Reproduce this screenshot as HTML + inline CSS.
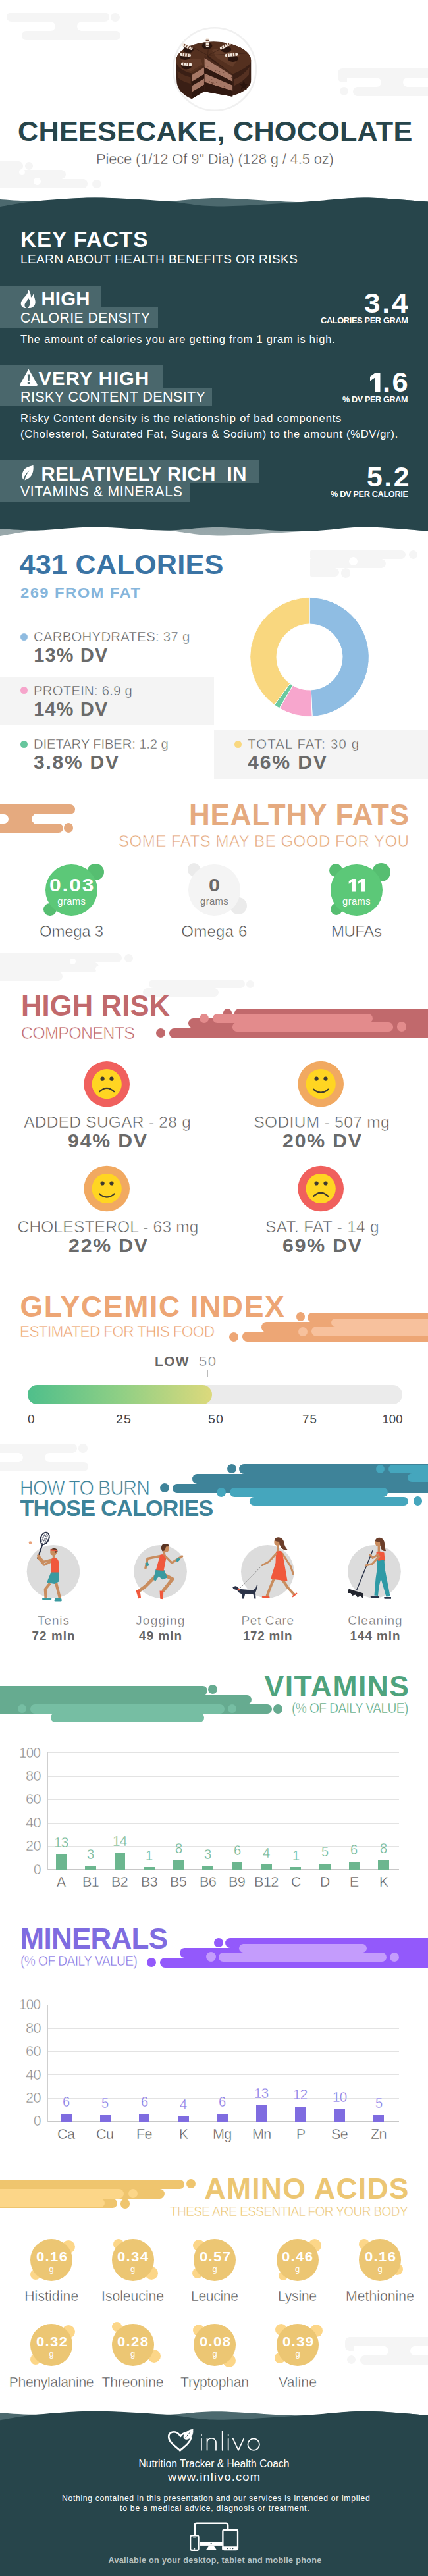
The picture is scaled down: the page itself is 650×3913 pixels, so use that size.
<!DOCTYPE html>
<html><head><meta charset="utf-8"><title>Cheesecake, Chocolate</title>
<style>
html,body{margin:0;padding:0;background:#fff;}
body{width:650px;height:3913px;position:relative;overflow:hidden;font-family:"Liberation Sans",sans-serif;}
.t{position:absolute;white-space:nowrap;line-height:1;transform-origin:0 50%;}
.r{position:absolute;}
svg{position:absolute;left:0;top:0;overflow:visible;}
</style></head><body>
<div class="r" style="left:10.0px;top:19.3px;width:156.0px;height:14.2px;background:#f5f5f5;border-radius:7.1px;"></div>
<div class="r" style="left:168.4px;top:19.7px;width:13.2px;height:13.2px;background:#f5f5f5;border-radius:6.6px;"></div>
<div class="r" style="left:32.7px;top:47.3px;width:150.0px;height:13.6px;background:#f5f5f5;border-radius:6.8px;"></div>
<div class="r" style="left:76.0px;top:26.3px;width:49.0px;height:28.0px;background:#f5f5f5;"></div>
<div class="r" style="left:0.0px;top:33.4px;width:84.0px;height:14.0px;background:#fff;border-radius:7.0px;"></div>
<div class="r" style="left:117.0px;top:33.4px;width:90.0px;height:14.0px;background:#fff;border-radius:7.0px;"></div>
<div class="r" style="left:513.0px;top:104.0px;width:700.0px;height:14.0px;background:#f5f5f5;border-radius:7.0px;"></div>
<div class="r" style="left:536.0px;top:132.0px;width:700.0px;height:13.5px;background:#f5f5f5;border-radius:6.8px;"></div>
<div class="r" style="left:516.0px;top:131.9px;width:13.2px;height:13.2px;background:#f5f5f5;border-radius:6.6px;"></div>
<div class="r" style="left:513.0px;top:111.0px;width:14.0px;height:14.0px;background:#f5f5f5;border-radius:0 0 0 7px;"></div>
<div class="r" style="left:571.0px;top:111.0px;width:49.0px;height:28.0px;background:#f5f5f5;"></div>
<div class="r" style="left:527.0px;top:118.0px;width:52.0px;height:14.0px;background:#fff;border-radius:7.0px;"></div>
<div class="r" style="left:612.0px;top:118.0px;width:200.0px;height:14.0px;background:#fff;border-radius:7.0px;"></div>
<div class="r" style="left:-10.0px;top:245.0px;width:45.0px;height:13.5px;background:#f5f5f5;border-radius:6.7px;"></div>
<div class="r" style="left:38.0px;top:245.5px;width:12.0px;height:12.0px;background:#f5f5f5;border-radius:6.0px;"></div>
<div class="r" style="left:-10.0px;top:258.0px;width:110.0px;height:14.0px;background:#f5f5f5;border-radius:7.0px;"></div>
<div class="r" style="left:-10.0px;top:272.0px;width:143.0px;height:13.5px;background:#f5f5f5;border-radius:6.7px;"></div>
<div class="r" style="left:140.4px;top:272.8px;width:13.2px;height:13.2px;background:#f5f5f5;border-radius:6.6px;"></div>
<div class="r" style="left:-10.0px;top:251.0px;width:30.0px;height:28.0px;background:#f5f5f5;"></div>
<div class="r" style="left:28.5px;top:257.0px;width:9.0px;height:9.0px;background:#fff;border-radius:4.5px;"></div>
<div class="r" style="left:50.5px;top:269.5px;width:11.0px;height:11.0px;background:#fff;border-radius:5.5px;"></div>
<svg width="650" height="300" viewBox="0 0 650 300"><circle cx="326" cy="105" r="62.8" fill="#fff" stroke="#f0f0f0" stroke-width="2.6"/><g transform="translate(255 35) scale(0.3271)"><path d="M38 175 A174 88 0 0 1 386 175 L386 262 A174 84 0 0 1 300 338 L300 342 L168 318 L110 352 Q40 322 40 262 Z" fill="#3a1f15"/><path d="M306 262 Q350 245 378 205 L376 240 Q350 272 306 292 Z" fill="#5a3525" opacity="0.85"/><path d="M44 222 Q70 245 106 252 L106 282 Q66 272 46 252 Z" fill="#55301f" opacity="0.85"/><path d="M38 175 A174 88 0 0 1 386 175 Q386 200 300 238 L185 150 L168 198 L110 234 Q40 215 38 175 Z" fill="#54301f"/><path d="M205 125 Q260 105 335 150 L300 205 L225 160 Z" fill="#6b432f" opacity="0.65"/><path d="M62 172 Q100 160 152 166 L160 192 L106 224 Q70 212 62 172 Z" fill="#6b432f" opacity="0.55"/><path d="M110.0 234.0 L168.0 198.0 L168.0 206.4 L110.0 242.3 Z" fill="#4b2a1c"/><path d="M110.0 242.3 L168.0 206.4 L168.0 237.6 L110.0 272.9 Z" fill="#a67866"/><path d="M110.0 272.9 L168.0 237.6 L168.0 258.0 L110.0 293.0 Z" fill="#2f1810"/><path d="M110.0 293.0 L168.0 258.0 L168.0 286.8 L110.0 321.3 Z" fill="#a67866"/><path d="M110.0 321.3 L168.0 286.8 L168.0 318.0 L110.0 352.0 Z" fill="#2f1810"/><path d="M170.0 150.0 L300.0 238.0 L300.0 245.3 L170.0 161.8 Z" fill="#4b2a1c"/><path d="M170.0 161.8 L300.0 245.3 L300.0 272.3 L170.0 205.4 Z" fill="#a67866"/><path d="M170.0 205.4 L300.0 272.3 L300.0 290.0 L170.0 234.0 Z" fill="#2f1810"/><path d="M170.0 234.0 L300.0 290.0 L300.0 315.0 L170.0 274.3 Z" fill="#a67866"/><path d="M170.0 274.3 L300.0 315.0 L300.0 342.0 L170.0 318.0 Z" fill="#2f1810"/><circle cx="204" cy="263" r="2" fill="#6d4536"/><circle cx="250" cy="273" r="2" fill="#6d4536"/><circle cx="206" cy="279" r="2" fill="#6d4536"/><circle cx="240" cy="225" r="2" fill="#6d4536"/><circle cx="203" cy="277" r="2" fill="#6d4536"/><circle cx="264" cy="242" r="2" fill="#6d4536"/><circle cx="211" cy="278" r="2" fill="#6d4536"/><circle cx="246" cy="279" r="2" fill="#6d4536"/><circle cx="222" cy="222" r="2" fill="#6d4536"/><circle cx="280" cy="238" r="2" fill="#6d4536"/><circle cx="206" cy="274" r="2" fill="#6d4536"/><circle cx="226" cy="276" r="2" fill="#6d4536"/><circle cx="245" cy="238" r="2" fill="#6d4536"/><circle cx="278" cy="257" r="2" fill="#6d4536"/><circle cx="259" cy="231" r="2" fill="#6d4536"/><circle cx="261" cy="294" r="2" fill="#6d4536"/><circle cx="209" cy="277" r="2" fill="#6d4536"/><circle cx="186" cy="202" r="2" fill="#6d4536"/><circle cx="177" cy="185" r="2" fill="#6d4536"/><circle cx="180" cy="245" r="2" fill="#6d4536"/><circle cx="241" cy="236" r="2" fill="#6d4536"/><circle cx="295" cy="252" r="2" fill="#6d4536"/><circle cx="289" cy="294" r="2" fill="#6d4536"/><circle cx="194" cy="272" r="2" fill="#6d4536"/><circle cx="218" cy="280" r="2" fill="#6d4536"/><circle cx="230" cy="219" r="2" fill="#6d4536"/><g stroke="#3a1f15" stroke-width="2.500" opacity="0.8"><path d="M185 150 L100 104"/><path d="M185 150 L190 87"/><path d="M185 150 L285 100"/><path d="M185 150 L368 140"/></g><ellipse cx="95" cy="124" rx="24" ry="15" fill="#2a140d"/><ellipse cx="182" cy="106" rx="24" ry="15" fill="#2a140d"/><ellipse cx="270" cy="122" rx="24" ry="15" fill="#2a140d"/><ellipse cx="302" cy="165" rx="24" ry="15" fill="#2a140d"/><ellipse cx="86" cy="200" rx="24" ry="15" fill="#2a140d"/><ellipse cx="80" cy="156" rx="24" ry="15" fill="#2a140d"/><path d="M183 76 L183 106" stroke="#f3e9df" stroke-width="14" stroke-linecap="round"/><path d="M183 76 L183 106" stroke="#6b4330" stroke-width="14" stroke-dasharray="4 7.500" stroke-dashoffset="-3"/><path d="M72 102 L108 118" stroke="#f3e9df" stroke-width="14" stroke-linecap="round"/><path d="M72 102 L108 118" stroke="#6b4330" stroke-width="14" stroke-dasharray="4 7.500" stroke-dashoffset="-3"/><path d="M62 146 L100 150" stroke="#f3e9df" stroke-width="14" stroke-linecap="round"/><path d="M62 146 L100 150" stroke="#6b4330" stroke-width="14" stroke-dasharray="4 7.500" stroke-dashoffset="-3"/><path d="M68 190 L105 193" stroke="#f3e9df" stroke-width="14" stroke-linecap="round"/><path d="M68 190 L105 193" stroke="#6b4330" stroke-width="14" stroke-dasharray="4 7.500" stroke-dashoffset="-3"/><path d="M248 116 L285 98" stroke="#f3e9df" stroke-width="14" stroke-linecap="round"/><path d="M248 116 L285 98" stroke="#6b4330" stroke-width="14" stroke-dasharray="4 7.500" stroke-dashoffset="-3"/><path d="M272 150 L318 146" stroke="#f3e9df" stroke-width="14" stroke-linecap="round"/><path d="M272 150 L318 146" stroke="#6b4330" stroke-width="14" stroke-dasharray="4 7.500" stroke-dashoffset="-3"/><path transform="translate(352 288)" d="M0 -22 L6 -6 L22 -6 L9 5 L14 22 L0 11 L-14 22 L-9 5 L-22 -6 L-6 -6 Z" fill="#2a140d"/></g></svg>
<div class="t" style="left:27.0px;top:178.2px;font-size:43.2px;font-weight:bold;color:#27454b;letter-spacing:0.25px;">CHEESECAKE, CHOCOLATE</div>
<div class="t" style="left:146.0px;top:230.7px;font-size:22.0px;font-weight:normal;color:#4c4c4c;letter-spacing:-0.17px;-webkit-text-stroke:0.48px #fff;">Piece (1/12 Of 9" Dia) (128 g / 4.5 oz)</div>
<svg width="650" height="900" viewBox="0 0 650 900"><defs><linearGradient id="wg" x1="0" y1="0" x2="0" y2="1"><stop offset="0" stop-color="#4c696e"/><stop offset="0.5" stop-color="#4c696e"/><stop offset="1" stop-color="#9aa9ac"/></linearGradient></defs><path d="M0.0 303.0 C9.5 303.4 33.0 305.9 57.0 305.5 C81.0 305.1 111.8 300.5 144.0 300.5 C176.2 300.5 219.0 305.4 250.0 305.5 C281.0 305.6 295.3 300.8 330.0 301.0 C364.7 301.2 420.8 307.1 458.0 307.0 C495.2 306.9 521.0 300.6 553.0 300.5 C585.0 300.4 633.8 305.6 650.0 306.6 L650.0 806.6 C633.8 805.6 585.0 800.4 553.0 800.5 C521.0 800.6 495.2 804.8 458.0 807.0 C420.8 809.2 364.7 813.8 330.0 813.5 C295.3 813.2 281.0 807.7 250.0 805.5 C219.0 803.3 176.2 800.5 144.0 800.5 C111.8 800.5 81.0 803.2 57.0 805.5 C33.0 807.8 9.5 812.6 0.0 814.0 Z" fill="url(#wg)"/><path d="M0.0 314.0 C9.5 312.6 33.0 307.8 57.0 305.5 C81.0 303.2 111.8 300.5 144.0 300.5 C176.2 300.5 219.0 303.3 250.0 305.5 C281.0 307.7 295.3 313.2 330.0 313.5 C364.7 313.8 420.8 309.2 458.0 307.0 C495.2 304.8 521.0 300.6 553.0 300.5 C585.0 300.4 633.8 305.6 650.0 306.6 L650.0 806.6 C633.8 805.6 585.0 800.4 553.0 800.5 C521.0 800.6 495.2 806.9 458.0 807.0 C420.8 807.1 364.7 801.2 330.0 801.0 C295.3 800.8 281.0 805.6 250.0 805.5 C219.0 805.4 176.2 800.5 144.0 800.5 C111.8 800.5 81.0 805.1 57.0 805.5 C33.0 805.9 9.5 803.4 0.0 803.0 Z" fill="#27454b"/></svg>
<div class="t" style="left:31.0px;top:346.8px;font-size:33.3px;font-weight:bold;color:#fff;letter-spacing:0.90px;">KEY FACTS</div>
<div class="t" style="left:31.0px;top:383.7px;font-size:19.0px;font-weight:normal;color:#fff;letter-spacing:0.43px;">LEARN ABOUT HEALTH BENEFITS OR RISKS</div>
<div class="r" style="left:0.0px;top:434.4px;width:153.6px;height:33.0px;background:#4a676c;"></div>
<div class="r" style="left:0.0px;top:465.7px;width:240.0px;height:32.0px;background:#4a676c;"></div>
<svg width="650" height="800" viewBox="0 0 650 800"><path transform="translate(20 430) scale(0.2571)" d="M88 36 C93 54 80 68 67 83 C53 99 44 111 46 125 C48 139 60 147 75 148 C66 139 65 127 73 116 C80 107 87 100 87 88 C96 95 102 108 100 121 C98 133 93 141 86 148 L99 148 C117 146 131 133 131 112 C131 97 125 86 119 62 C117 73 112 80 105 85 C105 66 99 48 88 36 Z" fill="#fff"/></svg>
<div class="t" style="left:62.4px;top:439.2px;font-size:29.3px;font-weight:bold;color:#fff;letter-spacing:0.25px;">HIGH</div>
<div class="t" style="left:31.0px;top:472.3px;font-size:21.2px;font-weight:normal;color:#fff;letter-spacing:0.44px;">CALORIE DENSITY</div>
<div class="t" style="left:31.0px;top:506.5px;font-size:16.5px;font-weight:normal;color:#fff;letter-spacing:0.79px;">The amount of calories you are getting from 1 gram is high.</div>
<div class="t" style="left:553.1px;top:439.6px;font-size:42.5px;font-weight:bold;color:#fff;letter-spacing:2.55px;transform:scaleX(1.0361);">3.4</div>
<div class="t" style="left:486.6px;top:479.8px;font-size:13.0px;font-weight:bold;color:#fff;letter-spacing:-0.39px;transform:scaleX(0.9881);">CALORIES PER GRAM</div>
<div class="r" style="left:0.0px;top:554.0px;width:247.0px;height:36.0px;background:#4a676c;"></div>
<div class="r" style="left:0.0px;top:589.0px;width:322.0px;height:28.0px;background:#4a676c;"></div>
<svg width="650" height="800" viewBox="0 0 650 800"><path d="M43.5 560.5 L56.8 584.3 Q57.3 586 55.5 586 L31.5 586 Q29.700 586 30.200 584.3 Z M41.8 568.5 L42.300 578.300 L44.700 578.300 L45.200 568.500 Z M43.500 580 A1.800 1.800 0 1 0 43.510 580 Z" fill="#fff" fill-rule="evenodd"/></svg>
<div class="t" style="left:58.6px;top:559.9px;font-size:29.3px;font-weight:bold;color:#fff;letter-spacing:0.99px;">VERY HIGH</div>
<div class="t" style="left:31.0px;top:592.0px;font-size:21.6px;font-weight:normal;color:#fff;letter-spacing:0.35px;">RISKY CONTENT DENSITY</div>
<div class="t" style="left:31.0px;top:627.0px;font-size:16.5px;font-weight:normal;color:#fff;letter-spacing:0.86px;">Risky Content density is the relationship of bad components</div>
<div class="t" style="left:31.0px;top:651.0px;font-size:16.5px;font-weight:normal;color:#fff;letter-spacing:0.73px;">(Cholesterol, Saturated Fat, Sugars &amp; Sodium) to the amount (%DV/gr).</div>
<svg width="650" height="3913" viewBox="0 0 650 3913"><polygon points="569.30,566.80 577.48,566.80 577.48,596.00 569.15,596.00 569.15,573.66 562.00,578.48 562.00,571.91" fill="#fff"/></svg>
<div class="t" style="left:581.0px;top:560.0px;font-size:42.5px;font-weight:bold;color:#fff;letter-spacing:2.55px;transform:scaleX(1.0186);">.6</div>
<div class="t" style="left:520.1px;top:599.5px;font-size:13.0px;font-weight:bold;color:#fff;letter-spacing:-0.39px;transform:scaleX(0.9734);">% DV PER GRAM</div>
<div class="r" style="left:0.0px;top:699.0px;width:393.0px;height:35.0px;background:#4a676c;"></div>
<div class="r" style="left:0.0px;top:733.6px;width:287.5px;height:28.0px;background:#4a676c;"></div>
<svg width="650" height="800" viewBox="0 0 650 800"><path d="M50.5 706.8 C51.5 716 49 725 40.5 728 L37.5 729.6 C38.5 724 41 719 45 714.5 C40.5 718 37 722.5 35.2 728.5 C32 722 34 713 42 709.5 C45 708.3 48 707.8 50.5 706.8 Z" fill="#fff"/></svg>
<div class="t" style="left:62.4px;top:704.6px;font-size:29.3px;font-weight:bold;color:#fff;letter-spacing:0.59px;">RELATIVELY RICH</div>
<div class="t" style="left:344.5px;top:704.6px;font-size:29.3px;font-weight:bold;color:#fff;letter-spacing:0.70px;">IN</div>
<div class="t" style="left:31.0px;top:736.4px;font-size:21.2px;font-weight:normal;color:#fff;letter-spacing:0.73px;">VITAMINS &amp; MINERALS</div>
<div class="t" style="left:556.5px;top:704.3px;font-size:42.5px;font-weight:bold;color:#fff;letter-spacing:2.55px;transform:scaleX(1.0050);">5.2</div>
<div class="t" style="left:501.6px;top:743.5px;font-size:13.0px;font-weight:bold;color:#fff;letter-spacing:-0.39px;transform:scaleX(0.9847);">% DV PER CALORIE</div>
<div class="r" style="left:471.0px;top:836.4px;width:145.0px;height:13.0px;background:#f5f5f5;border-radius:2px 6.500px 6.500px 2px;"></div>
<div class="r" style="left:620.8px;top:835.8px;width:13.6px;height:13.6px;background:#f5f5f5;border-radius:6.8px;"></div>
<div class="r" style="left:471.0px;top:849.0px;width:114.5px;height:14.0px;background:#f5f5f5;border-radius:0 7px 7px 0;"></div>
<div class="r" style="left:471.0px;top:863.0px;width:44.4px;height:13.0px;background:#f5f5f5;border-radius:0 6.500px 6.500px 2px;"></div>
<div class="r" style="left:517.6px;top:863.3px;width:14.4px;height:14.4px;background:#f5f5f5;border-radius:7.2px;"></div>
<div class="r" style="left:529.9px;top:845.5px;width:13.0px;height:13.0px;background:#fff;border-radius:6.5px;"></div>
<div class="t" style="left:29.5px;top:836.0px;font-size:43.3px;font-weight:bold;color:#3b74a4;letter-spacing:0.18px;">431 CALORIES</div>
<div class="t" style="left:30.5px;top:889.8px;font-size:21.6px;font-weight:bold;color:#86b6dc;letter-spacing:1.30px;transform:scaleX(1.1025);">269 FROM FAT</div>
<div class="r" style="left:0.0px;top:1029.0px;width:325.0px;height:72.0px;background:#f4f4f4;"></div>
<div class="r" style="left:325.0px;top:1108.6px;width:325.0px;height:74.6px;background:#f4f4f4;"></div>
<div class="r" style="left:31.0px;top:961.5px;width:11.0px;height:11.0px;background:#8fbbe0;border-radius:5.5px;"></div>
<div class="t" style="left:51.0px;top:956.9px;font-size:20.3px;font-weight:normal;color:#5c5c5c;letter-spacing:0.30px;-webkit-text-stroke:0.45px #fff;">CARBOHYDRATES: 37 g</div>
<div class="t" style="left:51.3px;top:980.7px;font-size:28.8px;font-weight:bold;color:#6a6a6a;letter-spacing:1.27px;">13% DV</div>
<div class="r" style="left:31.0px;top:1043.3px;width:11.0px;height:11.0px;background:#f6a5cb;border-radius:5.5px;"></div>
<div class="t" style="left:51.0px;top:1038.7px;font-size:20.3px;font-weight:normal;color:#5c5c5c;letter-spacing:0.26px;-webkit-text-stroke:0.45px #f4f4f4;">PROTEIN: 6.9 g</div>
<div class="t" style="left:51.3px;top:1062.5px;font-size:28.8px;font-weight:bold;color:#6a6a6a;letter-spacing:1.27px;">14% DV</div>
<div class="r" style="left:31.0px;top:1124.6px;width:11.0px;height:11.0px;background:#67c69d;border-radius:5.5px;"></div>
<div class="t" style="left:51.0px;top:1120.0px;font-size:20.3px;font-weight:normal;color:#5c5c5c;letter-spacing:-0.14px;-webkit-text-stroke:0.45px #fff;">DIETARY FIBER: 1.2 g</div>
<div class="t" style="left:51.3px;top:1143.8px;font-size:28.8px;font-weight:bold;color:#6a6a6a;letter-spacing:1.73px;transform:scaleX(1.0401);">3.8% DV</div>
<div class="r" style="left:356.0px;top:1124.6px;width:11.0px;height:11.0px;background:#f9d880;border-radius:5.5px;"></div>
<div class="t" style="left:376.0px;top:1120.0px;font-size:20.3px;font-weight:normal;color:#5c5c5c;letter-spacing:1.17px;-webkit-text-stroke:0.45px #f4f4f4;">TOTAL FAT: 30 g</div>
<div class="t" style="left:376.3px;top:1143.8px;font-size:28.8px;font-weight:bold;color:#6a6a6a;letter-spacing:1.73px;transform:scaleX(1.0499);">46% DV</div>
<svg width="650" height="1200" viewBox="0 0 650 1200"><path d="M470.00 907.70 A90.30 90.30 0 0 1 474.10 1088.21 L472.27 1047.95 A50.00 50.00 0 0 0 470.00 948.00 Z" fill="#8fbde3" stroke="#fff" stroke-width="1"/><path d="M474.10 1088.21 A90.30 90.30 0 0 1 424.31 1075.88 L444.70 1041.13 A50.00 50.00 0 0 0 472.27 1047.95 Z" fill="#f7a6cd" stroke="#fff" stroke-width="1"/><path d="M424.31 1075.88 A90.30 90.30 0 0 1 416.67 1070.87 L440.47 1038.35 A50.00 50.00 0 0 0 444.70 1041.13 Z" fill="#6bc9a0" stroke="#fff" stroke-width="1"/><path d="M416.67 1070.87 A90.30 90.30 0 0 1 470.00 907.70 L470.00 948.00 A50.00 50.00 0 0 0 440.47 1038.35 Z" fill="#f9d77f" stroke="#fff" stroke-width="1"/></svg>
<div class="r" style="left:0.0px;top:1222.0px;width:114.0px;height:14.5px;background:#e5aa7f;border-radius:0 7.3px 7.3px 0;"></div>
<div class="r" style="left:0.0px;top:1236.0px;width:52.0px;height:15.0px;background:#e5aa7f;"></div>
<div class="r" style="left:0.0px;top:1250.7px;width:96.0px;height:14.3px;background:#e5aa7f;border-radius:0 7.2px 7.2px 0;"></div>
<div class="r" style="left:-10.0px;top:1236.5px;width:23.0px;height:14.2px;background:#fff;border-radius:7.1px;"></div>
<div class="r" style="left:48.0px;top:1236.5px;width:80.0px;height:14.2px;background:#fff;border-radius:7.1px;"></div>
<div class="r" style="left:96.6px;top:1250.1px;width:14.8px;height:14.8px;background:#e5aa7f;border-radius:7.4px;"></div>
<div class="t" style="left:287.0px;top:1215.8px;font-size:44.0px;font-weight:bold;color:#e5aa7f;letter-spacing:0.81px;">HEALTHY FATS</div>
<div class="t" style="left:180.0px;top:1265.7px;font-size:24.0px;font-weight:normal;color:#e5aa7f;letter-spacing:0.53px;-webkit-text-stroke:0.53px #fff;">SOME FATS MAY BE GOOD FOR YOU</div>
<div class="r" style="left:132.1px;top:1311.5px;width:25.8px;height:25.8px;background:#56be71;border-radius:12.9px;"></div>
<div class="r" style="left:66.2px;top:1371.9px;width:19.6px;height:19.6px;background:#56be71;border-radius:9.8px;"></div>
<div class="r" style="left:69.2px;top:1312.6px;width:78.8px;height:78.8px;background:#5cc878;border-radius:39.4px;"></div>
<div class="t" style="left:74.8px;top:1331.0px;font-size:27.6px;font-weight:bold;color:#fff;letter-spacing:1.66px;transform:scaleX(1.1502);">0.03</div>
<div class="t" style="left:87.3px;top:1361.5px;font-size:14.8px;font-weight:normal;color:#fff;letter-spacing:0.35px;">grams</div>
<div class="t" style="left:60.1px;top:1403.0px;font-size:24.0px;font-weight:normal;color:#4e4e4e;letter-spacing:-0.29px;-webkit-text-stroke:0.53px #fff;">Omega 3</div>
<div class="r" style="left:284.6px;top:1311.2px;width:19.6px;height:19.6px;background:#ebebeb;border-radius:9.8px;"></div>
<div class="r" style="left:348.9px;top:1362.9px;width:25.8px;height:25.8px;background:#ebebeb;border-radius:12.9px;"></div>
<div class="r" style="left:285.9px;top:1312.6px;width:78.8px;height:78.8px;background:#f4f4f4;border-radius:39.4px;"></div>
<div class="t" style="left:316.8px;top:1331.0px;font-size:27.6px;font-weight:bold;color:#6a6a6a;letter-spacing:0.00px;transform:scaleX(1.1075);">0</div>
<div class="t" style="left:304.1px;top:1361.5px;font-size:14.8px;font-weight:normal;color:#7a7a7a;letter-spacing:0.35px;">grams</div>
<div class="t" style="left:275.3px;top:1403.0px;font-size:24.0px;font-weight:normal;color:#4e4e4e;letter-spacing:0.21px;-webkit-text-stroke:0.53px #fff;">Omega 6</div>
<div class="r" style="left:499.5px;top:1311.5px;width:20.0px;height:20.0px;background:#56be71;border-radius:10.0px;"></div>
<div class="r" style="left:565.0px;top:1311.0px;width:28.0px;height:28.0px;background:#56be71;border-radius:14.0px;"></div>
<div class="r" style="left:502.0px;top:1371.7px;width:18.0px;height:18.0px;background:#56be71;border-radius:9.0px;"></div>
<div class="r" style="left:502.0px;top:1312.6px;width:78.8px;height:78.8px;background:#5cc878;border-radius:39.4px;"></div>
<svg width="650" height="3913" viewBox="0 0 650 3913"><polygon points="534.55,1335.00 539.98,1335.00 539.98,1354.40 534.45,1354.40 534.45,1339.56 529.70,1342.76 529.70,1338.39" fill="#fff"/></svg>
<svg width="650" height="3913" viewBox="0 0 650 3913"><polygon points="548.95,1335.00 554.38,1335.00 554.38,1354.40 548.85,1354.40 548.85,1339.56 544.10,1342.76 544.10,1338.39" fill="#fff"/></svg>
<div class="t" style="left:520.1px;top:1361.5px;font-size:14.8px;font-weight:normal;color:#fff;letter-spacing:0.35px;">grams</div>
<div class="t" style="left:502.9px;top:1403.0px;font-size:24.0px;font-weight:normal;color:#4e4e4e;letter-spacing:-0.42px;-webkit-text-stroke:0.53px #fff;">MUFAs</div>
<div class="r" style="left:-10.0px;top:1448.0px;width:195.0px;height:14.0px;background:#f5f5f5;border-radius:7.0px;"></div>
<div class="r" style="left:188.5px;top:1448.5px;width:13.0px;height:13.0px;background:#f5f5f5;border-radius:6.5px;"></div>
<div class="r" style="left:-10.0px;top:1462.0px;width:160.0px;height:14.0px;background:#f5f5f5;border-radius:7.0px;"></div>
<div class="r" style="left:-10.0px;top:1476.0px;width:105.0px;height:14.0px;background:#f5f5f5;border-radius:7.0px;"></div>
<div class="r" style="left:-10.0px;top:1455.0px;width:80.0px;height:28.0px;background:#f5f5f5;"></div>
<div class="r" style="left:105.5px;top:1455.5px;width:9.0px;height:9.0px;background:#fff;border-radius:4.5px;"></div>
<div class="r" style="left:145.0px;top:1467.0px;width:10.0px;height:10.0px;background:#fff;border-radius:5.0px;"></div>
<div class="r" style="left:226.0px;top:1488.0px;width:146.0px;height:13.0px;background:#f5f5f5;border-radius:6.5px;"></div>
<div class="r" style="left:374.0px;top:1488.5px;width:12.0px;height:12.0px;background:#f5f5f5;border-radius:6.0px;"></div>
<div class="r" style="left:217.0px;top:1501.0px;width:115.0px;height:13.0px;background:#f5f5f5;border-radius:6.5px;"></div>
<div class="r" style="left:240.0px;top:1494.0px;width:80.0px;height:14.0px;background:#f5f5f5;"></div>
<div class="t" style="left:32.0px;top:1507.0px;font-size:43.5px;font-weight:bold;color:#c1696c;letter-spacing:0.15px;">HIGH RISK</div>
<div class="t" style="left:32.0px;top:1556.0px;font-size:26.0px;font-weight:normal;color:#c1696c;letter-spacing:-0.78px;transform:scaleX(0.9647);-webkit-text-stroke:0.57px #fff;">COMPONENTS</div>
<div class="r" style="left:237.0px;top:1562.2px;width:14.0px;height:14.0px;background:#c1696c;border-radius:7.0px;"></div>
<div class="r" style="left:256.6px;top:1561.6px;width:700.0px;height:15.4px;background:#c1696c;border-radius:7.7px;"></div>
<div class="r" style="left:286.2px;top:1546.7px;width:700.0px;height:15.5px;background:#c1696c;border-radius:7.7px;"></div>
<div class="r" style="left:356.0px;top:1532.2px;width:700.0px;height:15.0px;background:#c1696c;border-radius:7.5px;"></div>
<div class="r" style="left:338.7px;top:1532.0px;width:13.6px;height:13.6px;background:#c1696c;border-radius:6.8px;"></div>
<div class="r" style="left:314.0px;top:1550.2px;width:700.0px;height:20.0px;background:#c1696c;"></div>
<div class="r" style="left:384.0px;top:1540.2px;width:700.0px;height:20.0px;background:#c1696c;"></div>
<div class="r" style="left:302.8px;top:1540.0px;width:14.4px;height:14.4px;background:#e38b8c;border-radius:7.2px;"></div>
<div class="r" style="left:323.2px;top:1539.6px;width:243.1px;height:14.0px;background:#e38b8c;border-radius:7.0px;"></div>
<div class="r" style="left:352.6px;top:1553.4px;width:244.1px;height:13.6px;background:#e38b8c;border-radius:6.8px;"></div>
<div class="r" style="left:602.6px;top:1552.3px;width:14.4px;height:14.4px;background:#e38b8c;border-radius:7.2px;"></div>
<div class="r" style="left:360.6px;top:1548.4px;width:197.7px;height:10.0px;background:#e38b8c;"></div>
<svg width="650" height="2000" viewBox="0 0 650 2000"><circle cx="162.2" cy="1646.7" r="34.8" fill="#f0605d"/><circle cx="162.2" cy="1646.7" r="22.6" fill="#ffd522"/><circle cx="155.6" cy="1638.7" r="3.1" fill="#3d3a30"/><circle cx="169.5" cy="1638.7" r="3.1" fill="#3d3a30"/><path d="M151.2 1658.1 Q162.2 1647.7 173.2 1658.1" fill="none" stroke="#3d3a30" stroke-width="2.3" stroke-linecap="round"/></svg>
<svg width="650" height="2000" viewBox="0 0 650 2000"><circle cx="487.2" cy="1646.6" r="34.8" fill="#f1a961"/><circle cx="487.2" cy="1646.6" r="22.6" fill="#ffd522"/><circle cx="480.6" cy="1638.6" r="3.1" fill="#3d3a30"/><circle cx="494.5" cy="1638.6" r="3.1" fill="#3d3a30"/><path d="M476.2 1654.6 Q487.2 1664.6 498.5 1654.6" fill="none" stroke="#3d3a30" stroke-width="2.3" stroke-linecap="round"/></svg>
<svg width="650" height="2000" viewBox="0 0 650 2000"><circle cx="162.2" cy="1805.5" r="34.8" fill="#f1a961"/><circle cx="162.2" cy="1805.5" r="22.6" fill="#ffd522"/><circle cx="155.6" cy="1797.5" r="3.1" fill="#3d3a30"/><circle cx="169.5" cy="1797.5" r="3.1" fill="#3d3a30"/><path d="M151.2 1813.5 Q162.2 1823.5 173.5 1813.5" fill="none" stroke="#3d3a30" stroke-width="2.3" stroke-linecap="round"/></svg>
<svg width="650" height="2000" viewBox="0 0 650 2000"><circle cx="487.2" cy="1805.5" r="34.8" fill="#f0605d"/><circle cx="487.2" cy="1805.5" r="22.6" fill="#ffd522"/><circle cx="480.6" cy="1797.5" r="3.1" fill="#3d3a30"/><circle cx="494.5" cy="1797.5" r="3.1" fill="#3d3a30"/><path d="M476.2 1816.9 Q487.2 1806.5 498.2 1816.9" fill="none" stroke="#3d3a30" stroke-width="2.3" stroke-linecap="round"/></svg>
<div class="t" style="left:36.2px;top:1692.9px;font-size:24.5px;font-weight:normal;color:#5e5e5e;letter-spacing:0.26px;-webkit-text-stroke:0.54px #fff;">ADDED SUGAR - 28 g</div>
<div class="t" style="left:103.0px;top:1718.2px;font-size:29.3px;font-weight:bold;color:#6a6a6a;letter-spacing:1.76px;transform:scaleX(1.0320);">94% DV</div>
<div class="t" style="left:385.4px;top:1692.9px;font-size:24.5px;font-weight:normal;color:#5e5e5e;letter-spacing:0.34px;-webkit-text-stroke:0.54px #fff;">SODIUM - 507 mg</div>
<div class="t" style="left:428.5px;top:1718.2px;font-size:29.3px;font-weight:bold;color:#6a6a6a;letter-spacing:1.76px;transform:scaleX(1.0320);">20% DV</div>
<div class="t" style="left:26.5px;top:1851.8px;font-size:24.5px;font-weight:normal;color:#5e5e5e;letter-spacing:0.20px;-webkit-text-stroke:0.54px #fff;">CHOLESTEROL - 63 mg</div>
<div class="t" style="left:104.0px;top:1877.1px;font-size:29.3px;font-weight:bold;color:#6a6a6a;letter-spacing:1.76px;transform:scaleX(1.0320);">22% DV</div>
<div class="t" style="left:403.1px;top:1851.8px;font-size:24.5px;font-weight:normal;color:#5e5e5e;letter-spacing:0.27px;-webkit-text-stroke:0.54px #fff;">SAT. FAT - 14 g</div>
<div class="t" style="left:429.4px;top:1877.1px;font-size:29.3px;font-weight:bold;color:#6a6a6a;letter-spacing:1.76px;transform:scaleX(1.0320);">69% DV</div>
<div class="t" style="left:30.4px;top:1963.2px;font-size:44.6px;font-weight:bold;color:#eda675;letter-spacing:1.65px;">GLYCEMIC INDEX</div>
<div class="t" style="left:30.4px;top:2011.0px;font-size:24.0px;font-weight:normal;color:#eda675;letter-spacing:-0.72px;transform:scaleX(0.9428);-webkit-text-stroke:0.53px #fff;">ESTIMATED FOR THIS FOOD</div>
<div class="r" style="left:348.0px;top:2023.6px;width:14.0px;height:14.0px;background:#eda675;border-radius:7.0px;"></div>
<div class="r" style="left:367.6px;top:2023.0px;width:700.0px;height:15.4px;background:#eda675;border-radius:7.7px;"></div>
<div class="r" style="left:397.2px;top:2008.1px;width:700.0px;height:15.5px;background:#eda675;border-radius:7.7px;"></div>
<div class="r" style="left:467.0px;top:1993.6px;width:700.0px;height:15.0px;background:#eda675;border-radius:7.5px;"></div>
<div class="r" style="left:449.7px;top:1993.4px;width:13.6px;height:13.6px;background:#eda675;border-radius:6.8px;"></div>
<div class="r" style="left:425.0px;top:2011.6px;width:700.0px;height:20.0px;background:#eda675;"></div>
<div class="r" style="left:495.0px;top:2001.6px;width:700.0px;height:20.0px;background:#eda675;"></div>
<div class="r" style="left:452.6px;top:2015.6px;width:14.0px;height:14.0px;background:#f7c19d;border-radius:7.0px;"></div>
<div class="r" style="left:472.7px;top:2015.1px;width:700.0px;height:15.0px;background:#f7c19d;border-radius:7.5px;"></div>
<div class="r" style="left:503.0px;top:2003.1px;width:700.0px;height:12.3px;background:#f7c19d;border-radius:6.2px;"></div>
<div class="r" style="left:511.0px;top:2010.1px;width:536.0px;height:10.0px;background:#f7c19d;"></div>
<div class="t" style="left:235.4px;top:2058.9px;font-size:19.8px;font-weight:bold;color:#666;letter-spacing:1.19px;transform:scaleX(1.0605);">LOW</div>
<div class="t" style="left:302.0px;top:2058.9px;font-size:19.8px;font-weight:normal;color:#7a7a7a;letter-spacing:1.19px;transform:scaleX(1.1201);-webkit-text-stroke:0.44px #fff;">50</div>
<div class="r" style="left:314.6px;top:2081.0px;width:1.0px;height:10.0px;background:#bbb;"></div>
<div class="r" style="left:41.8px;top:2103.7px;width:569.2px;height:29.4px;background:#ebebeb;border-radius:14.7px;"></div>
<div class="r" style="left:41.8px;top:2103.7px;width:280.2px;height:29.4px;background:#ccc;border-radius:14.7px;background:linear-gradient(90deg,#4fbf8b 0%,#8fcf85 50%,#dcd97c 100%);"></div>
<div class="t" style="left:41.5px;top:2147.3px;font-size:18.5px;font-weight:normal;color:#444;letter-spacing:0.00px;transform:scaleX(1.0205);">0</div>
<div class="t" style="left:176.0px;top:2147.3px;font-size:18.5px;font-weight:normal;color:#444;letter-spacing:1.11px;transform:scaleX(1.0605);">25</div>
<div class="t" style="left:315.5px;top:2147.3px;font-size:18.5px;font-weight:normal;color:#444;letter-spacing:1.11px;transform:scaleX(1.0605);">50</div>
<div class="t" style="left:459.0px;top:2147.3px;font-size:18.5px;font-weight:normal;color:#444;letter-spacing:1.11px;transform:scaleX(1.0144);">75</div>
<div class="t" style="left:580.5px;top:2147.3px;font-size:18.5px;font-weight:normal;color:#444;letter-spacing:0.07px;">100</div>
<div class="r" style="left:-39.0px;top:2193.0px;width:156.0px;height:14.2px;background:#f5f5f5;border-radius:7.1px;"></div>
<div class="r" style="left:119.4px;top:2193.4px;width:13.2px;height:13.2px;background:#f5f5f5;border-radius:6.6px;"></div>
<div class="r" style="left:-16.3px;top:2221.0px;width:150.0px;height:13.6px;background:#f5f5f5;border-radius:6.8px;"></div>
<div class="r" style="left:27.0px;top:2200.0px;width:49.0px;height:28.0px;background:#f5f5f5;"></div>
<div class="r" style="left:-49.0px;top:2207.1px;width:84.0px;height:14.0px;background:#fff;border-radius:7.0px;"></div>
<div class="r" style="left:68.0px;top:2207.1px;width:90.0px;height:14.0px;background:#fff;border-radius:7.0px;"></div>
<div class="t" style="left:30.4px;top:2244.8px;font-size:31.0px;font-weight:normal;color:#3e8399;letter-spacing:-0.93px;transform:scaleX(0.9276);-webkit-text-stroke:0.68px #fff;">HOW TO BURN</div>
<div class="t" style="left:30.4px;top:2274.3px;font-size:34.2px;font-weight:bold;color:#3e8399;letter-spacing:-0.77px;">THOSE CALORIES</div>
<div class="r" style="left:242.5px;top:2253.4px;width:14.0px;height:14.0px;background:#3e8399;border-radius:7.0px;"></div>
<div class="r" style="left:262.0px;top:2253.7px;width:420.0px;height:14.0px;background:#3e8399;border-radius:7.0px;"></div>
<div class="r" style="left:291.7px;top:2239.3px;width:420.0px;height:14.6px;background:#3e8399;border-radius:7.3px;"></div>
<div class="r" style="left:362.6px;top:2224.4px;width:420.0px;height:15.0px;background:#3e8399;border-radius:7.5px;"></div>
<div class="r" style="left:344.9px;top:2224.0px;width:14.0px;height:14.0px;background:#3e8399;border-radius:7.0px;"></div>
<div class="r" style="left:300.0px;top:2246.0px;width:400.0px;height:14.0px;background:#3e8399;"></div>
<div class="r" style="left:370.0px;top:2232.0px;width:300.0px;height:14.0px;background:#3e8399;"></div>
<div class="r" style="left:329.4px;top:2259.8px;width:14.0px;height:14.0px;background:#45a6bd;border-radius:7.0px;"></div>
<div class="r" style="left:349.3px;top:2259.9px;width:239.7px;height:14.4px;background:#45a6bd;border-radius:7.2px;"></div>
<div class="r" style="left:379.0px;top:2273.5px;width:241.0px;height:13.5px;background:#45a6bd;border-radius:6.8px;"></div>
<div class="r" style="left:386.0px;top:2266.0px;width:190.0px;height:12.0px;background:#45a6bd;"></div>
<div class="r" style="left:627.8px;top:2273.2px;width:13.6px;height:13.6px;background:#45a6bd;border-radius:6.8px;"></div>
<div class="r" style="left:571.0px;top:2225.2px;width:13.2px;height:13.2px;background:#45a6bd;border-radius:6.6px;"></div>
<div class="r" style="left:590.4px;top:2225.4px;width:80.0px;height:13.0px;background:#45a6bd;border-radius:6.5px;"></div>
<div class="r" style="left:619.0px;top:2238.0px;width:60.0px;height:13.0px;background:#45a6bd;border-radius:6.5px;"></div>
<div class="r" style="left:626.0px;top:2232.0px;width:30.0px;height:10.0px;background:#45a6bd;"></div>
<svg width="650" height="2500" viewBox="0 0 650 2500"><circle cx="81.0" cy="2387.2" r="40.3" fill="#dcdcdc"/><circle cx="243.6" cy="2387.2" r="40.3" fill="#dcdcdc"/><circle cx="406.3" cy="2387.2" r="40.3" fill="#dcdcdc"/><circle cx="568.5" cy="2387.2" r="40.3" fill="#dcdcdc"/><g>
<circle cx="46" cy="2343.5" r="2.3" fill="#e9a27a"/>
<ellipse cx="68" cy="2336.8" rx="6.3" ry="9.6" transform="rotate(22 68 2336.8)" fill="none" stroke="#2b3348" stroke-width="1.8"/>
<g stroke="#2b3348" stroke-width="0.5" transform="rotate(22 68 2336.8)"><path d="M63 2333h10M62.5 2336.8h11M63 2340.5h10M65.5 2329v16M68 2328v18M70.5 2329v16"/></g>
<path d="M64.5 2346 L57.2 2367" stroke="#2b3348" stroke-width="2.2" stroke-linecap="round"/>
<path d="M79.5 2369 L66 2372.5 L58 2363" fill="none" stroke="#c98d5f" stroke-width="3.6" stroke-linejoin="round" stroke-linecap="round"/>
<path d="M80 2371 L67 2377 L57.5 2366" fill="none" stroke="#c98d5f" stroke-width="3.4" stroke-linejoin="round" stroke-linecap="round"/>
<path d="M76 2405 L68.8 2414 L69.5 2427" fill="none" stroke="#c98d5f" stroke-width="4.2" stroke-linejoin="round"/>
<path d="M85 2404 L88 2416 L91 2428" fill="none" stroke="#c98d5f" stroke-width="4.2" stroke-linejoin="round"/>
<path d="M77.5 2388 L89.5 2388 L90 2402 L83 2406 L71 2404 Z" fill="#3a9aa0"/>
<path d="M78 2369 Q79 2366 83 2366 Q88 2367 89 2372 L89.6 2388.5 L77.6 2388.5 Z" fill="#f0583c"/>
<rect x="79.8" y="2360" width="3.4" height="7" fill="#c98d5f"/>
<circle cx="81.3" cy="2357.6" r="5.2" fill="#c98d5f"/>
<path d="M76.5 2354.5 Q81 2349.5 87 2353.5 L87.5 2357 L84 2359 L83.5 2355.5 Z" fill="#5a3423"/>
<path d="M76.3 2353.3 L86.8 2354.2 L86.8 2356.6 L76.3 2355.6 Z" fill="#e8553d"/>
<path d="M64.5 2427 h13.5 q1 4 -2 4 h-9 q-4 0 -2.500 -4z" fill="#3a9aa0"/>
<path d="M84 2428 h9 q2 4.500 -1 4.500 h-8 q-3 0 0 -4.500z" fill="#3a9aa0"/>
</g><g>
<path d="M243.5 2363.5 L224 2367.5 L221 2382" fill="none" stroke="#c98d5f" stroke-width="3.6" stroke-linejoin="round" stroke-linecap="round"/>
<path d="M222.3 2373.8 L224.8 2378.8" stroke="#3a9aa0" stroke-width="4.6"/>
<path d="M237.500 2393 L221 2409.500 L209.500 2418" fill="none" stroke="#c98d5f" stroke-width="5" stroke-linejoin="round"/>
<path d="M249 2392 L262 2398.500 L247 2417.500" fill="none" stroke="#c98d5f" stroke-width="5.2" stroke-linejoin="round"/>
<path d="M236.500 2384 L249.500 2385 L254 2396.500 L247 2399.500 L241 2394.500 L236 2402 L233 2399 Z" fill="#3a9aa0"/>
<path d="M243.200 2362 Q246 2360.500 251.500 2361.500 L252.500 2366 L248.600 2386 L236.800 2385 Z" fill="#f0583c"/>
<path d="M251.500 2364.500 L261 2374 L276.500 2364" fill="none" stroke="#c98d5f" stroke-width="3.4" stroke-linejoin="round" stroke-linecap="round"/>
<path d="M268 2371.300 L272.600 2367.200" stroke="#3a9aa0" stroke-width="4.400"/>
<rect x="247.500" y="2356" width="3.600" height="6.500" fill="#c98d5f"/>
<circle cx="251.200" cy="2352.300" r="5.800" fill="#c98d5f"/>
<path d="M245 2352.500 Q244.500 2345 251 2345 Q257 2345 256.500 2349 L252 2349.500 L250.500 2355 L246.500 2356.500 Z" fill="#5a3423"/>
<path d="M206.300 2415.500 l6 -1 l1.800 13 l-4 0.800 z" fill="#f0583c"/>
<path d="M242.500 2416.500 l5.800 0.200 l-0.500 12.500 l-4.500 -0.500 z" fill="#f0583c"/>
</g><g>
<path d="M398 2378 L363.500 2413.500" stroke="#8a8a8a" stroke-width="0.9"/>
<path d="M429 2360 L441.500 2379.500 L445.400 2391" fill="none" stroke="#c98d5f" stroke-width="3" stroke-linejoin="round" stroke-linecap="round"/>
<path d="M428.500 2399 L437.500 2412 L447 2422.500" fill="none" stroke="#c98d5f" stroke-width="4" stroke-linejoin="round"/>
<path d="M416 2398 L410.500 2411 L405.500 2424.500" fill="none" stroke="#c98d5f" stroke-width="4" stroke-linejoin="round"/>
<path d="M419 2357 Q423 2354.500 428.500 2357 L431 2370 L436.500 2401.500 L411 2398.500 L418.500 2374 Z" fill="#f0583c"/>
<path d="M419.500 2360 L408 2372.500 L398.500 2377.500" fill="none" stroke="#c98d5f" stroke-width="3" stroke-linejoin="round" stroke-linecap="round"/>
<rect x="420.600" y="2347" width="3.400" height="9.500" fill="#c98d5f"/>
<circle cx="421.800" cy="2342.600" r="5.600" fill="#c98d5f"/>
<path d="M416.500 2340 Q418 2334.500 424.500 2335.500 Q430.500 2337 431.500 2344 Q432.500 2350 437 2354.500 Q430 2355.500 426.500 2350.500 Q424 2346.500 424 2342 Q420 2342 416.500 2340 Z" fill="#6b3e2a"/>
<path d="M398 2425 h10 q2 0 1.500 2 h-9.500 q-3 0 -2 -2z" fill="#f0583c"/>
<path d="M443.500 2424.500 l6.500 -5 q2 0 1 2 l-6.500 5 z" fill="#f0583c"/>
<path d="M353 2410.500 L358.500 2409 L362.500 2412.500 L366 2414 L384 2415.500 L388 2413 L390 2407.500 L391.300 2408 L389.500 2415 L388 2419.500 L388.500 2428.500 L386.300 2428.500 L384.500 2422 L372 2422 L370.500 2428.500 L368 2428.500 L367 2421.500 L362.500 2419 L360 2415.500 L354.500 2413.800 Z" fill="#2b3348"/>
<path d="M361.500 2412.300 l2.800 1.600 l-1 2.600 l-2.800 -1.600z" fill="#f0583c"/>
</g><g>
<path d="M571.500 2357.500 Q577 2355 583.500 2358.500 L584.500 2371 L578 2373 L572 2370 Z" fill="#f0583c"/>
<path d="M572.500 2359 L574.500 2371 L583.500 2369 L584.500 2383 L589.500 2409 L592.500 2425 L586.500 2425.500 L578.500 2398 L575.500 2410 L574 2424 L568.500 2423.500 L570.500 2398 L572.800 2382 L572.500 2372 Z" fill="#2f9aa6"/>
<path d="M566 2355.300 L541.400 2416" stroke="#2b3348" stroke-width="1.500"/>
<path d="M529.500 2413.500 L552 2420.500 L551 2427.500 L547 2424.500 L543 2426.500 L539.500 2422.500 L535 2424 L532.500 2420 L528 2420 Z" fill="#22252e"/>
<path d="M574.500 2361 L566 2366.500 L562 2361.500" fill="none" stroke="#c98d5f" stroke-width="3" stroke-linejoin="round" stroke-linecap="round"/>
<path d="M576 2364 L565.500 2375.500 L555.500 2378" fill="none" stroke="#c98d5f" stroke-width="3" stroke-linejoin="round" stroke-linecap="round"/>
<rect x="573.600" y="2348" width="3.400" height="9" fill="#c98d5f"/>
<circle cx="574.800" cy="2343.200" r="5.600" fill="#c98d5f"/>
<path d="M569.500 2341 Q571 2335 578 2336 Q583.500 2337.500 584 2345 Q584.500 2351.500 586 2356 Q580.500 2357 578.500 2351.500 Q577 2347 577 2342.500 Q573 2342.500 569.500 2341 Z" fill="#6b3e2a"/>
<path d="M563 2424.500 h12.500 v2.800 h-10.500 q-3 0 -2 -2.800z" fill="#2b3348"/>
<path d="M583.500 2426 h10.500 v2.800 h-9 q-3 0 -1.500 -2.800z" fill="#2b3348"/>
</g></svg>
<div class="t" style="left:57.1px;top:2451.7px;font-size:19.0px;font-weight:normal;color:#6a6a6a;letter-spacing:0.86px;-webkit-text-stroke:0.42px #fff;">Tenis</div>
<div class="t" style="left:48.5px;top:2475.9px;font-size:18.8px;font-weight:bold;color:#666;letter-spacing:1.09px;">72 min</div>
<div class="t" style="left:206.3px;top:2451.7px;font-size:19.0px;font-weight:normal;color:#6a6a6a;letter-spacing:1.14px;transform:scaleX(1.0150);-webkit-text-stroke:0.42px #fff;">Jogging</div>
<div class="t" style="left:211.1px;top:2475.9px;font-size:18.8px;font-weight:bold;color:#666;letter-spacing:1.09px;">49 min</div>
<div class="t" style="left:366.4px;top:2451.7px;font-size:19.0px;font-weight:normal;color:#6a6a6a;letter-spacing:0.67px;-webkit-text-stroke:0.42px #fff;">Pet Care</div>
<div class="t" style="left:368.9px;top:2475.9px;font-size:18.8px;font-weight:bold;color:#666;letter-spacing:0.78px;">172 min</div>
<div class="t" style="left:528.2px;top:2451.7px;font-size:19.0px;font-weight:normal;color:#6a6a6a;letter-spacing:1.07px;-webkit-text-stroke:0.42px #fff;">Cleaning</div>
<div class="t" style="left:531.5px;top:2475.9px;font-size:18.8px;font-weight:bold;color:#666;letter-spacing:1.00px;">144 min</div>
<div class="r" style="left:-20.0px;top:2560.6px;width:335.0px;height:14.6px;background:#66ab90;border-radius:7.3px;"></div>
<div class="r" style="left:315.8px;top:2559.0px;width:14.0px;height:14.0px;background:#66ab90;border-radius:7.0px;"></div>
<div class="r" style="left:-20.0px;top:2575.0px;width:402.0px;height:14.0px;background:#66ab90;border-radius:7.0px;"></div>
<div class="r" style="left:-20.0px;top:2588.8px;width:432.5px;height:14.0px;background:#66ab90;border-radius:7.0px;"></div>
<div class="r" style="left:415.0px;top:2588.7px;width:14.0px;height:14.0px;background:#66ab90;border-radius:7.0px;"></div>
<div class="r" style="left:-20.0px;top:2567.0px;width:320.0px;height:30.0px;background:#66ab90;"></div>
<div class="r" style="left:26.6px;top:2588.7px;width:13.6px;height:13.6px;background:#76bea3;border-radius:6.8px;"></div>
<div class="r" style="left:46.0px;top:2588.8px;width:294.8px;height:14.0px;background:#76bea3;border-radius:7.0px;"></div>
<div class="r" style="left:345.8px;top:2588.7px;width:13.6px;height:13.6px;background:#76bea3;border-radius:6.8px;"></div>
<div class="r" style="left:77.0px;top:2602.0px;width:233.0px;height:13.6px;background:#76bea3;border-radius:6.8px;"></div>
<div class="r" style="left:84.0px;top:2596.0px;width:220.0px;height:12.0px;background:#76bea3;"></div>
<div class="t" style="left:401.5px;top:2539.9px;font-size:44.5px;font-weight:bold;color:#4fa37d;letter-spacing:1.46px;">VITAMINS</div>
<div class="t" style="left:443.0px;top:2585.3px;font-size:21.5px;font-weight:normal;color:#4fa37d;letter-spacing:-0.65px;transform:scaleX(0.8906);-webkit-text-stroke:0.47px #fff;">(% OF DAILY VALUE)</div>
<div class="r" style="left:72.0px;top:2662.3px;width:534.0px;height:1.0px;background:#e3e3e3;"></div>
<div class="t" style="left:29.3px;top:2651.5px;font-size:22.4px;font-weight:normal;color:#888;letter-spacing:-0.67px;transform:scaleX(0.9159);-webkit-text-stroke:0.49px #fff;">100</div>
<div class="r" style="left:72.0px;top:2697.7px;width:534.0px;height:1.0px;background:#e3e3e3;"></div>
<div class="t" style="left:38.8px;top:2686.9px;font-size:22.4px;font-weight:normal;color:#888;letter-spacing:-0.67px;transform:scaleX(0.9693);-webkit-text-stroke:0.49px #fff;">80</div>
<div class="r" style="left:72.0px;top:2733.1px;width:534.0px;height:1.0px;background:#e3e3e3;"></div>
<div class="t" style="left:38.8px;top:2722.3px;font-size:22.4px;font-weight:normal;color:#888;letter-spacing:-0.67px;transform:scaleX(0.9693);-webkit-text-stroke:0.49px #fff;">60</div>
<div class="r" style="left:72.0px;top:2768.5px;width:534.0px;height:1.0px;background:#e3e3e3;"></div>
<div class="t" style="left:38.8px;top:2757.7px;font-size:22.4px;font-weight:normal;color:#888;letter-spacing:-0.67px;transform:scaleX(0.9693);-webkit-text-stroke:0.49px #fff;">40</div>
<div class="r" style="left:72.0px;top:2803.9px;width:534.0px;height:1.0px;background:#e3e3e3;"></div>
<div class="t" style="left:38.8px;top:2793.1px;font-size:22.4px;font-weight:normal;color:#888;letter-spacing:-0.67px;transform:scaleX(0.9693);-webkit-text-stroke:0.49px #fff;">20</div>
<div class="r" style="left:72.0px;top:2839.3px;width:534.0px;height:1.0px;background:#c8c8c8;"></div>
<div class="t" style="left:50.8px;top:2828.5px;font-size:22.4px;font-weight:normal;color:#888;letter-spacing:0.00px;transform:scaleX(0.9231);-webkit-text-stroke:0.49px #fff;">0</div>
<div class="r" style="left:71.5px;top:2662.3px;width:1.0px;height:178.0px;background:#cfcfcf;"></div>
<div class="r" style="left:84.9px;top:2816.2px;width:16.6px;height:23.6px;background:#6cb68f;"></div>
<div class="t" style="left:82.0px;top:2787.6px;font-size:21.6px;font-weight:normal;color:#73b794;letter-spacing:-0.65px;transform:scaleX(0.9558);-webkit-text-stroke:0.32px #fff;">13</div>
<div class="t" style="left:86.2px;top:2848.3px;font-size:22.4px;font-weight:normal;color:#5c5c5c;letter-spacing:0.00px;transform:scaleX(0.9400);-webkit-text-stroke:0.45px #fff;">A</div>
<div class="r" style="left:129.4px;top:2834.2px;width:16.6px;height:5.6px;background:#6cb68f;"></div>
<div class="t" style="left:132.1px;top:2805.6px;font-size:21.6px;font-weight:normal;color:#73b794;letter-spacing:0.00px;transform:scaleX(0.9300);-webkit-text-stroke:0.32px #fff;">3</div>
<div class="t" style="left:124.8px;top:2848.3px;font-size:22.4px;font-weight:normal;color:#5c5c5c;letter-spacing:-0.67px;transform:scaleX(0.9636);-webkit-text-stroke:0.45px #fff;">B1</div>
<div class="r" style="left:173.9px;top:2814.1px;width:16.6px;height:25.7px;background:#6cb68f;"></div>
<div class="t" style="left:171.0px;top:2785.5px;font-size:21.6px;font-weight:normal;color:#73b794;letter-spacing:-0.65px;transform:scaleX(0.9558);-webkit-text-stroke:0.32px #fff;">14</div>
<div class="t" style="left:169.3px;top:2848.3px;font-size:22.4px;font-weight:normal;color:#5c5c5c;letter-spacing:-0.67px;transform:scaleX(0.9636);-webkit-text-stroke:0.45px #fff;">B2</div>
<div class="r" style="left:218.3px;top:2836.2px;width:16.6px;height:3.6px;background:#6cb68f;"></div>
<div class="t" style="left:221.1px;top:2807.6px;font-size:21.6px;font-weight:normal;color:#73b794;letter-spacing:0.00px;transform:scaleX(0.9300);-webkit-text-stroke:0.32px #fff;">1</div>
<div class="t" style="left:213.8px;top:2848.3px;font-size:22.4px;font-weight:normal;color:#5c5c5c;letter-spacing:-0.67px;transform:scaleX(0.9636);-webkit-text-stroke:0.45px #fff;">B3</div>
<div class="r" style="left:262.8px;top:2825.3px;width:16.6px;height:14.5px;background:#6cb68f;"></div>
<div class="t" style="left:265.5px;top:2796.7px;font-size:21.6px;font-weight:normal;color:#73b794;letter-spacing:0.00px;transform:scaleX(0.9300);-webkit-text-stroke:0.32px #fff;">8</div>
<div class="t" style="left:258.2px;top:2848.3px;font-size:22.4px;font-weight:normal;color:#5c5c5c;letter-spacing:-0.67px;transform:scaleX(0.9636);-webkit-text-stroke:0.45px #fff;">B5</div>
<div class="r" style="left:307.3px;top:2834.2px;width:16.6px;height:5.6px;background:#6cb68f;"></div>
<div class="t" style="left:310.0px;top:2805.6px;font-size:21.6px;font-weight:normal;color:#73b794;letter-spacing:0.00px;transform:scaleX(0.9300);-webkit-text-stroke:0.32px #fff;">3</div>
<div class="t" style="left:302.7px;top:2848.3px;font-size:22.4px;font-weight:normal;color:#5c5c5c;letter-spacing:-0.67px;transform:scaleX(0.9636);-webkit-text-stroke:0.45px #fff;">B6</div>
<div class="r" style="left:351.8px;top:2828.3px;width:16.6px;height:11.5px;background:#6cb68f;"></div>
<div class="t" style="left:354.5px;top:2799.7px;font-size:21.6px;font-weight:normal;color:#73b794;letter-spacing:0.00px;transform:scaleX(0.9300);-webkit-text-stroke:0.32px #fff;">6</div>
<div class="t" style="left:347.2px;top:2848.3px;font-size:22.4px;font-weight:normal;color:#5c5c5c;letter-spacing:-0.67px;transform:scaleX(0.9636);-webkit-text-stroke:0.45px #fff;">B9</div>
<div class="r" style="left:396.3px;top:2832.1px;width:16.6px;height:7.7px;background:#6cb68f;"></div>
<div class="t" style="left:399.0px;top:2803.5px;font-size:21.6px;font-weight:normal;color:#73b794;letter-spacing:0.00px;transform:scaleX(0.9300);-webkit-text-stroke:0.32px #fff;">4</div>
<div class="t" style="left:385.8px;top:2848.3px;font-size:22.4px;font-weight:normal;color:#5c5c5c;letter-spacing:-0.67px;transform:scaleX(0.9728);-webkit-text-stroke:0.45px #fff;">B12</div>
<div class="r" style="left:440.8px;top:2836.2px;width:16.6px;height:3.6px;background:#6cb68f;"></div>
<div class="t" style="left:443.5px;top:2807.6px;font-size:21.6px;font-weight:normal;color:#73b794;letter-spacing:0.00px;transform:scaleX(0.9300);-webkit-text-stroke:0.32px #fff;">1</div>
<div class="t" style="left:441.5px;top:2848.3px;font-size:22.4px;font-weight:normal;color:#5c5c5c;letter-spacing:0.00px;transform:scaleX(0.9400);-webkit-text-stroke:0.45px #fff;">C</div>
<div class="r" style="left:485.2px;top:2830.5px;width:16.6px;height:9.3px;background:#6cb68f;"></div>
<div class="t" style="left:488.0px;top:2801.9px;font-size:21.6px;font-weight:normal;color:#73b794;letter-spacing:0.00px;transform:scaleX(0.9300);-webkit-text-stroke:0.32px #fff;">5</div>
<div class="t" style="left:485.9px;top:2848.3px;font-size:22.4px;font-weight:normal;color:#5c5c5c;letter-spacing:0.00px;transform:scaleX(0.9400);-webkit-text-stroke:0.45px #fff;">D</div>
<div class="r" style="left:529.7px;top:2827.5px;width:16.6px;height:12.3px;background:#6cb68f;"></div>
<div class="t" style="left:532.4px;top:2798.9px;font-size:21.6px;font-weight:normal;color:#73b794;letter-spacing:0.00px;transform:scaleX(0.9300);-webkit-text-stroke:0.32px #fff;">6</div>
<div class="t" style="left:531.0px;top:2848.3px;font-size:22.4px;font-weight:normal;color:#5c5c5c;letter-spacing:0.00px;transform:scaleX(0.9400);-webkit-text-stroke:0.45px #fff;">E</div>
<div class="r" style="left:574.2px;top:2825.4px;width:16.6px;height:14.4px;background:#6cb68f;"></div>
<div class="t" style="left:576.9px;top:2796.8px;font-size:21.6px;font-weight:normal;color:#73b794;letter-spacing:0.00px;transform:scaleX(0.9300);-webkit-text-stroke:0.32px #fff;">8</div>
<div class="t" style="left:575.5px;top:2848.3px;font-size:22.4px;font-weight:normal;color:#5c5c5c;letter-spacing:0.00px;transform:scaleX(0.9400);-webkit-text-stroke:0.45px #fff;">K</div>
<div class="t" style="left:30.5px;top:2922.8px;font-size:44.0px;font-weight:bold;color:#7f6ce0;letter-spacing:-0.74px;">MINERALS</div>
<div class="t" style="left:30.5px;top:2968.8px;font-size:21.5px;font-weight:normal;color:#8270e2;letter-spacing:-0.65px;transform:scaleX(0.8931);-webkit-text-stroke:0.47px #fff;">(% OF DAILY VALUE)</div>
<div class="r" style="left:223.4px;top:2974.2px;width:14.0px;height:14.0px;background:#9359fb;border-radius:7.0px;"></div>
<div class="r" style="left:243.0px;top:2973.6px;width:700.0px;height:15.4px;background:#9359fb;border-radius:7.7px;"></div>
<div class="r" style="left:272.6px;top:2958.7px;width:700.0px;height:15.5px;background:#9359fb;border-radius:7.7px;"></div>
<div class="r" style="left:342.4px;top:2944.2px;width:700.0px;height:15.0px;background:#9359fb;border-radius:7.5px;"></div>
<div class="r" style="left:325.1px;top:2944.0px;width:13.6px;height:13.6px;background:#9359fb;border-radius:6.8px;"></div>
<div class="r" style="left:300.4px;top:2962.2px;width:700.0px;height:20.0px;background:#9359fb;"></div>
<div class="r" style="left:370.4px;top:2952.2px;width:700.0px;height:20.0px;background:#9359fb;"></div>
<div class="r" style="left:312.9px;top:2965.3px;width:15.0px;height:15.0px;background:#c49cfc;border-radius:7.5px;"></div>
<div class="r" style="left:332.0px;top:2966.3px;width:254.8px;height:13.8px;background:#c49cfc;border-radius:6.9px;"></div>
<div class="r" style="left:363.0px;top:2953.4px;width:194.0px;height:13.1px;background:#c49cfc;border-radius:6.6px;"></div>
<div class="r" style="left:591.6px;top:2965.8px;width:14.0px;height:14.0px;background:#c49cfc;border-radius:7.0px;"></div>
<div class="r" style="left:371.0px;top:2961.3px;width:178.0px;height:10.0px;background:#c49cfc;"></div>
<div class="r" style="left:72.0px;top:3045.2px;width:534.0px;height:1.0px;background:#e3e3e3;"></div>
<div class="t" style="left:29.3px;top:3034.4px;font-size:22.4px;font-weight:normal;color:#888;letter-spacing:-0.67px;transform:scaleX(0.9159);-webkit-text-stroke:0.49px #fff;">100</div>
<div class="r" style="left:72.0px;top:3080.6px;width:534.0px;height:1.0px;background:#e3e3e3;"></div>
<div class="t" style="left:38.8px;top:3069.8px;font-size:22.4px;font-weight:normal;color:#888;letter-spacing:-0.67px;transform:scaleX(0.9693);-webkit-text-stroke:0.49px #fff;">80</div>
<div class="r" style="left:72.0px;top:3116.0px;width:534.0px;height:1.0px;background:#e3e3e3;"></div>
<div class="t" style="left:38.8px;top:3105.2px;font-size:22.4px;font-weight:normal;color:#888;letter-spacing:-0.67px;transform:scaleX(0.9693);-webkit-text-stroke:0.49px #fff;">60</div>
<div class="r" style="left:72.0px;top:3151.4px;width:534.0px;height:1.0px;background:#e3e3e3;"></div>
<div class="t" style="left:38.8px;top:3140.6px;font-size:22.4px;font-weight:normal;color:#888;letter-spacing:-0.67px;transform:scaleX(0.9693);-webkit-text-stroke:0.49px #fff;">40</div>
<div class="r" style="left:72.0px;top:3186.8px;width:534.0px;height:1.0px;background:#e3e3e3;"></div>
<div class="t" style="left:38.8px;top:3176.0px;font-size:22.4px;font-weight:normal;color:#888;letter-spacing:-0.67px;transform:scaleX(0.9693);-webkit-text-stroke:0.49px #fff;">20</div>
<div class="r" style="left:72.0px;top:3222.2px;width:534.0px;height:1.0px;background:#c8c8c8;"></div>
<div class="t" style="left:50.8px;top:3211.4px;font-size:22.4px;font-weight:normal;color:#888;letter-spacing:0.00px;transform:scaleX(0.9231);-webkit-text-stroke:0.49px #fff;">0</div>
<div class="r" style="left:71.5px;top:3045.2px;width:1.0px;height:178.0px;background:#cfcfcf;"></div>
<div class="r" style="left:92.3px;top:3210.9px;width:16.6px;height:11.8px;background:#7f6ce0;"></div>
<div class="t" style="left:95.0px;top:3182.3px;font-size:21.6px;font-weight:normal;color:#8b7de6;letter-spacing:0.00px;transform:scaleX(0.9300);-webkit-text-stroke:0.32px #fff;">6</div>
<div class="t" style="left:87.1px;top:3231.2px;font-size:22.4px;font-weight:normal;color:#5c5c5c;letter-spacing:-0.67px;transform:scaleX(0.9626);-webkit-text-stroke:0.45px #fff;">Ca</div>
<div class="r" style="left:151.6px;top:3212.8px;width:16.6px;height:9.9px;background:#7f6ce0;"></div>
<div class="t" style="left:154.3px;top:3184.2px;font-size:21.6px;font-weight:normal;color:#8b7de6;letter-spacing:0.00px;transform:scaleX(0.9300);-webkit-text-stroke:0.32px #fff;">5</div>
<div class="t" style="left:146.4px;top:3231.2px;font-size:22.4px;font-weight:normal;color:#5c5c5c;letter-spacing:-0.67px;transform:scaleX(0.9626);-webkit-text-stroke:0.45px #fff;">Cu</div>
<div class="r" style="left:210.9px;top:3210.9px;width:16.6px;height:11.8px;background:#7f6ce0;"></div>
<div class="t" style="left:213.6px;top:3182.3px;font-size:21.6px;font-weight:normal;color:#8b7de6;letter-spacing:0.00px;transform:scaleX(0.9300);-webkit-text-stroke:0.32px #fff;">6</div>
<div class="t" style="left:206.9px;top:3231.2px;font-size:22.4px;font-weight:normal;color:#5c5c5c;letter-spacing:-0.67px;transform:scaleX(0.9648);-webkit-text-stroke:0.45px #fff;">Fe</div>
<div class="r" style="left:270.2px;top:3214.7px;width:16.6px;height:8.0px;background:#7f6ce0;"></div>
<div class="t" style="left:272.9px;top:3186.1px;font-size:21.6px;font-weight:normal;color:#8b7de6;letter-spacing:0.00px;transform:scaleX(0.9300);-webkit-text-stroke:0.32px #fff;">4</div>
<div class="t" style="left:271.5px;top:3231.2px;font-size:22.4px;font-weight:normal;color:#5c5c5c;letter-spacing:0.00px;transform:scaleX(0.9400);-webkit-text-stroke:0.45px #fff;">K</div>
<div class="r" style="left:329.5px;top:3210.9px;width:16.6px;height:11.8px;background:#7f6ce0;"></div>
<div class="t" style="left:332.3px;top:3182.3px;font-size:21.6px;font-weight:normal;color:#8b7de6;letter-spacing:0.00px;transform:scaleX(0.9300);-webkit-text-stroke:0.32px #fff;">6</div>
<div class="t" style="left:323.2px;top:3231.2px;font-size:22.4px;font-weight:normal;color:#5c5c5c;letter-spacing:-0.67px;transform:scaleX(0.9607);-webkit-text-stroke:0.45px #fff;">Mg</div>
<div class="r" style="left:388.9px;top:3197.6px;width:16.6px;height:25.1px;background:#7f6ce0;"></div>
<div class="t" style="left:386.0px;top:3169.0px;font-size:21.6px;font-weight:normal;color:#8b7de6;letter-spacing:-0.65px;transform:scaleX(0.9558);-webkit-text-stroke:0.32px #fff;">13</div>
<div class="t" style="left:382.5px;top:3231.2px;font-size:22.4px;font-weight:normal;color:#5c5c5c;letter-spacing:-0.67px;transform:scaleX(0.9607);-webkit-text-stroke:0.45px #fff;">Mn</div>
<div class="r" style="left:448.2px;top:3199.5px;width:16.6px;height:23.2px;background:#7f6ce0;"></div>
<div class="t" style="left:445.3px;top:3170.9px;font-size:21.6px;font-weight:normal;color:#8b7de6;letter-spacing:-0.65px;transform:scaleX(0.9558);-webkit-text-stroke:0.32px #fff;">12</div>
<div class="t" style="left:449.5px;top:3231.2px;font-size:22.4px;font-weight:normal;color:#5c5c5c;letter-spacing:0.00px;transform:scaleX(0.9400);-webkit-text-stroke:0.45px #fff;">P</div>
<div class="r" style="left:507.5px;top:3203.3px;width:16.6px;height:19.4px;background:#7f6ce0;"></div>
<div class="t" style="left:504.6px;top:3174.7px;font-size:21.6px;font-weight:normal;color:#8b7de6;letter-spacing:-0.65px;transform:scaleX(0.9558);-webkit-text-stroke:0.32px #fff;">10</div>
<div class="t" style="left:502.9px;top:3231.2px;font-size:22.4px;font-weight:normal;color:#5c5c5c;letter-spacing:-0.67px;transform:scaleX(0.9636);-webkit-text-stroke:0.45px #fff;">Se</div>
<div class="r" style="left:566.8px;top:3212.8px;width:16.6px;height:9.9px;background:#7f6ce0;"></div>
<div class="t" style="left:569.5px;top:3184.2px;font-size:21.6px;font-weight:normal;color:#8b7de6;letter-spacing:0.00px;transform:scaleX(0.9300);-webkit-text-stroke:0.32px #fff;">5</div>
<div class="t" style="left:562.8px;top:3231.2px;font-size:22.4px;font-weight:normal;color:#5c5c5c;letter-spacing:-0.67px;transform:scaleX(0.9648);-webkit-text-stroke:0.45px #fff;">Zn</div>
<div class="r" style="left:-20.0px;top:3310.6px;width:299.7px;height:14.6px;background:#efc56e;border-radius:7.3px;"></div>
<div class="r" style="left:283.0px;top:3310.0px;width:14.0px;height:14.0px;background:#efc56e;border-radius:7.0px;"></div>
<div class="r" style="left:-20.0px;top:3325.0px;width:269.8px;height:15.0px;background:#efc56e;border-radius:7.5px;"></div>
<div class="r" style="left:-20.0px;top:3339.9px;width:198.4px;height:14.4px;background:#efc56e;border-radius:7.2px;"></div>
<div class="r" style="left:182.7px;top:3340.3px;width:14.6px;height:14.6px;background:#efc56e;border-radius:7.3px;"></div>
<div class="r" style="left:-20.0px;top:3318.0px;width:250.0px;height:14.0px;background:#efc56e;"></div>
<div class="r" style="left:-20.0px;top:3332.0px;width:180.0px;height:14.0px;background:#efc56e;"></div>
<div class="r" style="left:-20.0px;top:3325.0px;width:207.7px;height:14.9px;background:#fcd688;border-radius:7.4px;"></div>
<div class="r" style="left:194.5px;top:3325.3px;width:14.0px;height:14.0px;background:#fcd688;border-radius:7.0px;"></div>
<div class="r" style="left:-20.0px;top:3339.5px;width:179.4px;height:13.4px;background:#fcd688;border-radius:6.7px;"></div>
<div class="r" style="left:-20.0px;top:3332.0px;width:160.0px;height:12.0px;background:#fcd688;"></div>
<div class="t" style="left:310.5px;top:3303.3px;font-size:44.5px;font-weight:bold;color:#ecc673;letter-spacing:1.25px;">AMINO ACIDS</div>
<div class="t" style="left:258.4px;top:3348.6px;font-size:20.0px;font-weight:normal;color:#ecc673;letter-spacing:-0.60px;transform:scaleX(0.9493);-webkit-text-stroke:0.44px #fff;">THESE ARE ESSENTIAL FOR YOUR BODY</div>
<div class="r" style="left:94.2px;top:3402.6px;width:20.0px;height:20.0px;background:#fcd688;border-radius:10.0px;"></div>
<div class="r" style="left:46.2px;top:3446.6px;width:16.0px;height:16.0px;background:#fcd688;border-radius:8.0px;"></div>
<div class="r" style="left:46.2px;top:3400.6px;width:64.0px;height:64.0px;background:#ecc673;border-radius:32.0px;"></div>
<div class="t" style="left:54.7px;top:3418.2px;font-size:20.4px;font-weight:bold;color:#fff;letter-spacing:1.22px;transform:scaleX(1.0835);">0.16</div>
<div class="t" style="left:74.6px;top:3439.8px;font-size:13.0px;font-weight:normal;color:#fff;letter-spacing:0.00px;">g</div>
<div class="t" style="left:37.2px;top:3477.1px;font-size:21.2px;font-weight:normal;color:#525252;letter-spacing:0.09px;-webkit-text-stroke:0.47px #fff;">Histidine</div>
<div class="r" style="left:171.6px;top:3400.6px;width:16.0px;height:16.0px;background:#fcd688;border-radius:8.0px;"></div>
<div class="r" style="left:219.6px;top:3442.6px;width:20.0px;height:20.0px;background:#fcd688;border-radius:10.0px;"></div>
<div class="r" style="left:169.6px;top:3400.6px;width:64.0px;height:64.0px;background:#ecc673;border-radius:32.0px;"></div>
<div class="t" style="left:178.1px;top:3418.2px;font-size:20.4px;font-weight:bold;color:#fff;letter-spacing:1.22px;transform:scaleX(1.0835);">0.34</div>
<div class="t" style="left:198.0px;top:3439.8px;font-size:13.0px;font-weight:normal;color:#fff;letter-spacing:0.00px;">g</div>
<div class="t" style="left:154.1px;top:3477.1px;font-size:21.2px;font-weight:normal;color:#525252;letter-spacing:-0.05px;-webkit-text-stroke:0.47px #fff;">Isoleucine</div>
<div class="r" style="left:293.0px;top:3401.6px;width:18.0px;height:18.0px;background:#fcd688;border-radius:9.0px;"></div>
<div class="r" style="left:292.0px;top:3444.6px;width:16.0px;height:16.0px;background:#fcd688;border-radius:8.0px;"></div>
<div class="r" style="left:294.0px;top:3400.6px;width:64.0px;height:64.0px;background:#ecc673;border-radius:32.0px;"></div>
<div class="t" style="left:302.5px;top:3418.2px;font-size:20.4px;font-weight:bold;color:#fff;letter-spacing:1.22px;transform:scaleX(1.0835);">0.57</div>
<div class="t" style="left:322.4px;top:3439.8px;font-size:13.0px;font-weight:normal;color:#fff;letter-spacing:0.00px;">g</div>
<div class="t" style="left:290.0px;top:3477.1px;font-size:21.2px;font-weight:normal;color:#525252;letter-spacing:-0.38px;-webkit-text-stroke:0.47px #fff;">Leucine</div>
<div class="r" style="left:467.6px;top:3400.6px;width:20.0px;height:20.0px;background:#fcd688;border-radius:10.0px;"></div>
<div class="r" style="left:422.6px;top:3449.6px;width:14.0px;height:14.0px;background:#fcd688;border-radius:7.0px;"></div>
<div class="r" style="left:419.6px;top:3400.6px;width:64.0px;height:64.0px;background:#ecc673;border-radius:32.0px;"></div>
<div class="t" style="left:428.1px;top:3418.2px;font-size:20.4px;font-weight:bold;color:#fff;letter-spacing:1.22px;transform:scaleX(1.0835);">0.46</div>
<div class="t" style="left:448.0px;top:3439.8px;font-size:13.0px;font-weight:normal;color:#fff;letter-spacing:0.00px;">g</div>
<div class="t" style="left:422.1px;top:3477.1px;font-size:21.2px;font-weight:normal;color:#525252;letter-spacing:-0.30px;-webkit-text-stroke:0.47px #fff;">Lysine</div>
<div class="r" style="left:545.0px;top:3400.6px;width:16.0px;height:16.0px;background:#fcd688;border-radius:8.0px;"></div>
<div class="r" style="left:594.0px;top:3437.6px;width:18.0px;height:18.0px;background:#fcd688;border-radius:9.0px;"></div>
<div class="r" style="left:545.0px;top:3400.6px;width:64.0px;height:64.0px;background:#ecc673;border-radius:32.0px;"></div>
<div class="t" style="left:553.5px;top:3418.2px;font-size:20.4px;font-weight:bold;color:#fff;letter-spacing:1.22px;transform:scaleX(1.0835);">0.16</div>
<div class="t" style="left:573.4px;top:3439.8px;font-size:13.0px;font-weight:normal;color:#fff;letter-spacing:0.00px;">g</div>
<div class="t" style="left:525.0px;top:3477.1px;font-size:21.2px;font-weight:normal;color:#525252;letter-spacing:0.03px;-webkit-text-stroke:0.47px #fff;">Methionine</div>
<div class="r" style="left:94.2px;top:3531.8px;width:20.0px;height:20.0px;background:#fcd688;border-radius:10.0px;"></div>
<div class="r" style="left:46.2px;top:3575.8px;width:16.0px;height:16.0px;background:#fcd688;border-radius:8.0px;"></div>
<div class="r" style="left:46.2px;top:3529.8px;width:64.0px;height:64.0px;background:#ecc673;border-radius:32.0px;"></div>
<div class="t" style="left:54.7px;top:3547.4px;font-size:20.4px;font-weight:bold;color:#fff;letter-spacing:1.22px;transform:scaleX(1.0835);">0.32</div>
<div class="t" style="left:74.6px;top:3569.0px;font-size:13.0px;font-weight:normal;color:#fff;letter-spacing:0.00px;">g</div>
<div class="t" style="left:13.7px;top:3608.1px;font-size:21.2px;font-weight:normal;color:#525252;letter-spacing:-0.35px;-webkit-text-stroke:0.47px #fff;">Phenylalanine</div>
<div class="r" style="left:170.1px;top:3527.3px;width:15.0px;height:15.0px;background:#fcd688;border-radius:7.5px;"></div>
<div class="r" style="left:223.6px;top:3568.8px;width:20.0px;height:20.0px;background:#fcd688;border-radius:10.0px;"></div>
<div class="r" style="left:169.6px;top:3529.8px;width:64.0px;height:64.0px;background:#ecc673;border-radius:32.0px;"></div>
<div class="t" style="left:178.1px;top:3547.4px;font-size:20.4px;font-weight:bold;color:#fff;letter-spacing:1.22px;transform:scaleX(1.0835);">0.28</div>
<div class="t" style="left:198.0px;top:3569.0px;font-size:13.0px;font-weight:normal;color:#fff;letter-spacing:0.00px;">g</div>
<div class="t" style="left:154.6px;top:3608.1px;font-size:21.2px;font-weight:normal;color:#525252;letter-spacing:-0.18px;-webkit-text-stroke:0.47px #fff;">Threonine</div>
<div class="r" style="left:293.0px;top:3530.8px;width:18.0px;height:18.0px;background:#fcd688;border-radius:9.0px;"></div>
<div class="r" style="left:338.0px;top:3575.8px;width:20.0px;height:20.0px;background:#fcd688;border-radius:10.0px;"></div>
<div class="r" style="left:294.0px;top:3529.8px;width:64.0px;height:64.0px;background:#ecc673;border-radius:32.0px;"></div>
<div class="t" style="left:302.5px;top:3547.4px;font-size:20.4px;font-weight:bold;color:#fff;letter-spacing:1.22px;transform:scaleX(1.0835);">0.08</div>
<div class="t" style="left:322.4px;top:3569.0px;font-size:13.0px;font-weight:normal;color:#fff;letter-spacing:0.00px;">g</div>
<div class="t" style="left:274.0px;top:3608.1px;font-size:21.2px;font-weight:normal;color:#525252;letter-spacing:-0.27px;-webkit-text-stroke:0.47px #fff;">Tryptophan</div>
<div class="r" style="left:418.0px;top:3530.3px;width:18.0px;height:18.0px;background:#fcd688;border-radius:9.0px;"></div>
<div class="r" style="left:470.5px;top:3531.3px;width:19.0px;height:19.0px;background:#fcd688;border-radius:9.5px;"></div>
<div class="r" style="left:417.0px;top:3573.8px;width:16.0px;height:16.0px;background:#fcd688;border-radius:8.0px;"></div>
<div class="r" style="left:420.0px;top:3529.8px;width:64.0px;height:64.0px;background:#ecc673;border-radius:32.0px;"></div>
<div class="t" style="left:428.5px;top:3547.4px;font-size:20.4px;font-weight:bold;color:#fff;letter-spacing:1.22px;transform:scaleX(1.0835);">0.39</div>
<div class="t" style="left:448.4px;top:3569.0px;font-size:13.0px;font-weight:normal;color:#fff;letter-spacing:0.00px;">g</div>
<div class="t" style="left:423.0px;top:3608.1px;font-size:21.2px;font-weight:normal;color:#525252;letter-spacing:0.13px;-webkit-text-stroke:0.47px #fff;">Valine</div>
<div class="r" style="left:524.0px;top:3550.0px;width:700.0px;height:14.0px;background:#f5f5f5;border-radius:7.0px;"></div>
<div class="r" style="left:547.0px;top:3578.0px;width:700.0px;height:13.5px;background:#f5f5f5;border-radius:6.8px;"></div>
<div class="r" style="left:527.0px;top:3577.9px;width:13.2px;height:13.2px;background:#f5f5f5;border-radius:6.6px;"></div>
<div class="r" style="left:524.0px;top:3557.0px;width:14.0px;height:14.0px;background:#f5f5f5;border-radius:0 0 0 7px;"></div>
<div class="r" style="left:582.0px;top:3557.0px;width:49.0px;height:28.0px;background:#f5f5f5;"></div>
<div class="r" style="left:538.0px;top:3564.0px;width:52.0px;height:14.0px;background:#fff;border-radius:7.0px;"></div>
<div class="r" style="left:623.0px;top:3564.0px;width:200.0px;height:14.0px;background:#fff;border-radius:7.0px;"></div>
<svg width="650" height="3913" viewBox="0 0 650 3913"><path d="M0.0 3665.3 C9.5 3665.7 33.0 3668.2 57.0 3667.8 C81.0 3667.4 111.8 3662.8 144.0 3662.8 C176.2 3662.8 219.0 3667.7 250.0 3667.8 C281.0 3667.9 295.3 3663.1 330.0 3663.3 C364.7 3663.6 420.8 3669.4 458.0 3669.3 C495.2 3669.2 521.0 3662.9 553.0 3662.8 C585.0 3662.7 633.8 3667.9 650.0 3668.9 L650 3913 L0 3913 Z" fill="#4c696e"/><path d="M0.0 3676.3 C9.5 3674.9 33.0 3670.1 57.0 3667.8 C81.0 3665.6 111.8 3662.8 144.0 3662.8 C176.2 3662.8 219.0 3665.6 250.0 3667.8 C281.0 3670.0 295.3 3675.6 330.0 3675.8 C364.7 3676.1 420.8 3671.5 458.0 3669.3 C495.2 3667.1 521.0 3662.9 553.0 3662.8 C585.0 3662.7 633.8 3667.9 650.0 3668.9 L650 3913 L0 3913 Z" fill="#27454b"/></svg>
<svg width="650" height="3913" viewBox="0 0 650 3913">
<g transform="translate(245 3680) scale(0.3738)" fill="none" stroke="#fff" stroke-linecap="round" stroke-linejoin="round">
<path d="M76 113 C52 92 30 78 30 58 C30 45 40 38 52 38 C64 38 72 46 78 56 C82 49 88 45 96 43" stroke-width="7"/>
<path d="M76 113 C96 96 116 82 121 62" stroke-width="7"/>
<path d="M128 27 C131 50 121 66 103 68 C93 68 89 61 92 52 C96 40 110 30 128 27 Z" fill="#fff" stroke-width="2"/>
<path d="M118 38 L99 60" stroke="#27454b" stroke-width="2.500"/>
<g stroke-width="4.600">
<path d="M163 66 V112"/><path d="M163 50 V51.500"/>
<path d="M186 64 V112 M186 82 C186 70 194 64 204 64 C215 64 222 71 222 82 V112"/>
<path d="M248 35 V112"/>
<path d="M272 66 V112"/><path d="M272 50 V51.500"/>
<path d="M291 65 L313 112 L335 65"/>
<circle cx="375" cy="88.500" r="23.500"/>
</g></g></svg>
<div class="t" style="left:210.5px;top:3735.3px;font-size:15.6px;font-weight:normal;color:#fff;letter-spacing:0.03px;">Nutrition Tracker &amp; Health Coach</div>
<div class="t" style="left:255.0px;top:3754.5px;font-size:16.0px;font-weight:normal;color:#fff;letter-spacing:0.96px;transform:scaleX(1.1490);">www.inlivo.com</div>
<div class="r" style="left:254.8px;top:3770.5px;width:140.4px;height:1.0px;background:#fff;"></div>
<div class="t" style="left:94.0px;top:3788.7px;font-size:12.2px;font-weight:normal;color:#fff;letter-spacing:0.68px;">Nothing contained in this presentation and our services is intended or implied</div>
<div class="t" style="left:182.0px;top:3803.7px;font-size:12.2px;font-weight:normal;color:#fff;letter-spacing:0.73px;transform:scaleX(1.0072);">to be a medical advice, diagnosis or treatment.</div>
<svg width="650" height="3913" viewBox="0 0 650 3913">
<g transform="translate(270 3825) scale(0.2571)">
<path d="M100 140 V42 Q100 30 112 30 H284 Q296 30 296 42 V140" fill="none" stroke="#fff" stroke-width="10"/>
<rect x="130" y="140" width="134" height="23" fill="#fff"/>
<circle cx="197" cy="151" r="4" fill="#27454b"/>
<path d="M182 166 H214 L230 190 H166 Z" fill="#fff"/>
<rect x="75" y="103" width="48" height="87" rx="8" fill="#27454b" stroke="#fff" stroke-width="8"/>
<path d="M90 113 H108" stroke="#fff" stroke-width="3"/><circle cx="99" cy="182" r="3.500" fill="#fff"/>
<rect x="266" y="69" width="88" height="118" rx="9" fill="#27454b" stroke="#fff" stroke-width="9"/>
<rect x="262" y="168" width="96" height="22" rx="6" fill="#fff"/>
<circle cx="295" cy="180" r="3.500" fill="#27454b"/><circle cx="310" cy="180" r="3.500" fill="#27454b"/><circle cx="325" cy="180" r="3.500" fill="#27454b"/>
</g></svg>
<div class="t" style="left:164.5px;top:3882.8px;font-size:12.6px;font-weight:bold;color:#b5c1c3;letter-spacing:0.32px;">Available on your desktop, tablet and mobile phone</div>
</body></html>
